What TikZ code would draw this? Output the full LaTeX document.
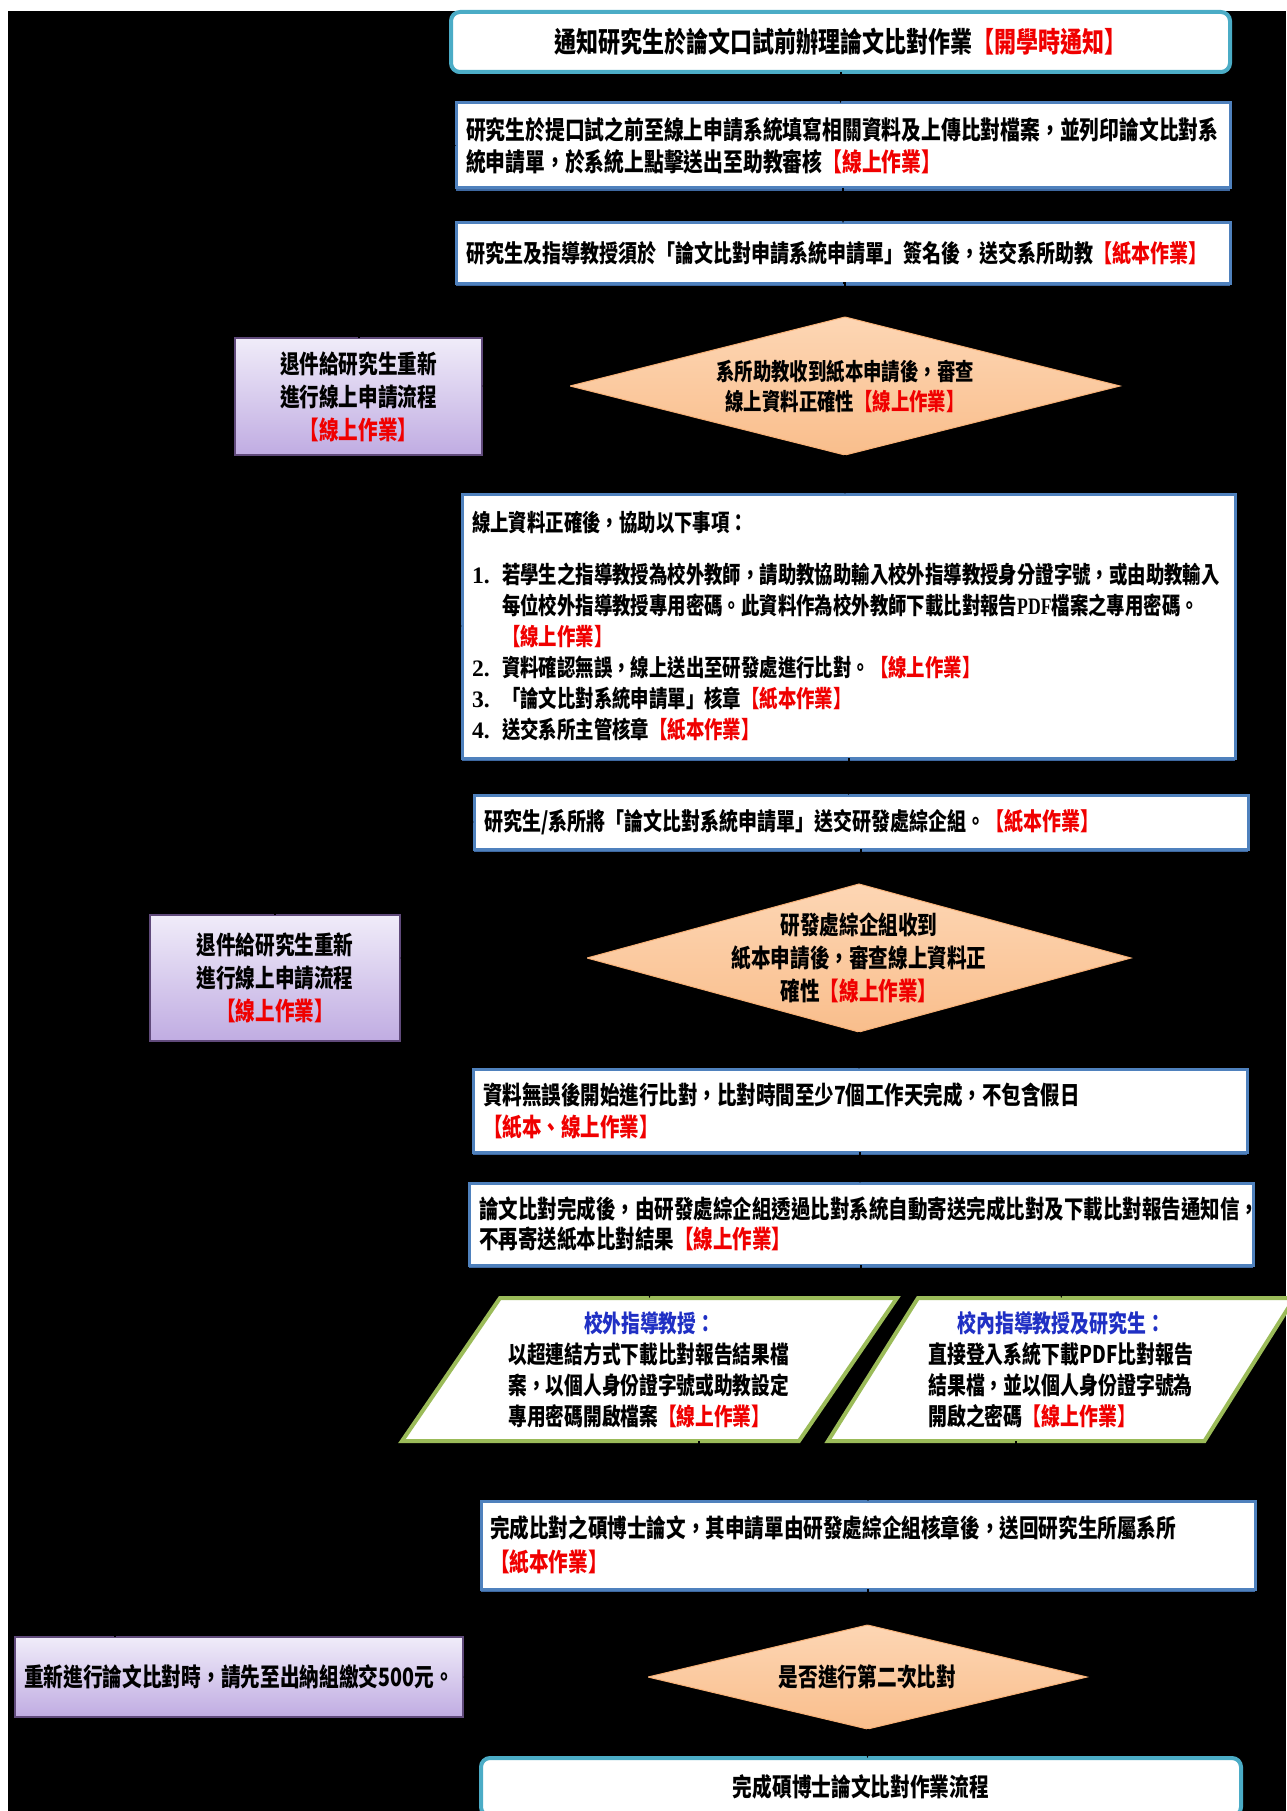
\documentclass[tikz,border=0pt]{standalone}
\usepackage{fontspec}
\setmainfont{Noto Sans CJK TC}[FakeStretch=0.78]
\newfontfamily\tnr{Liberation Serif}
\newfontfamily\tnrn{Liberation Serif}[FakeStretch=0.75]
\usetikzlibrary{shapes.geometric,shadows,arrows.meta}
\definecolor{tealc}{RGB}{75,172,198}
\definecolor{boxblue}{RGB}{79,129,189}
\definecolor{shadowblue}{RGB}{62,104,160}
\definecolor{purpb}{RGB}{96,74,123}
\definecolor{purpt}{RGB}{240,236,249}
\definecolor{purpbot}{RGB}{192,172,226}
\definecolor{oratop}{RGB}{253,214,180}
\definecolor{orabot}{RGB}{249,190,140}
\definecolor{orab}{RGB}{247,176,118}
\definecolor{greenb}{RGB}{155,187,89}
\definecolor{myred}{RGB}{240,0,0}
\definecolor{tblue}{RGB}{32,48,196}
\pgfdeclarelayer{back}
\pgfdeclarelayer{bg}
\pgfsetlayers{back,bg,main}
\newcommand{\redt}[1]{\textcolor{myred}{#1}}
% #1 = advance width of one character in px, #2 = line distance
\newcommand{\fs}[2]{\pgfmathsetmacro\fsz{#1/0.78}\bfseries\fontsize{\fsz}{#2}\selectfont}
\tikzset{
  every node/.style={inner sep=0pt, outer sep=0pt},
  bluebox/.style={draw=boxblue, line width=3pt, fill=white,
    general shadow={fill=shadowblue, shadow yshift=-3pt},
    align=left, inner xsep=10pt},
  tealbox/.style={draw=tealc, line width=4pt, fill=white, rounded corners=9pt,
    general shadow={fill=tealc!80!black, shadow yshift=-2pt}, align=center},
  purplebox/.style={draw=purpb, line width=1.5pt, top color=purpt, bottom color=purpbot, align=center},
  dia/.style={diamond, draw=orab, line width=1pt, top color=oratop, bottom color=orabot},
  parashape/.style={draw=greenb, line width=4pt, fill=white, line join=miter},
  conn/.style={draw=black, line width=2pt, -{Stealth[length=10pt]}},
}
\begin{document}
\begin{tikzpicture}[x=1pt,y=-1pt]
\useasboundingbox (0,0) rectangle (1286,1811);
\begin{pgfonlayer}{back}
\fill[white] (0,0) rectangle (1286,1811);
\fill[black] (8,11) rectangle (1286,1811);
\end{pgfonlayer}

% top box
\node[tealbox, minimum width=779pt, minimum height=60pt, font=\fs{22}{26}] (b1) at (840.5,42)
  {通知研究生於論文口試前辦理論文比對作業\redt{【開學時通知】}};

\node[bluebox, minimum width=774pt, minimum height=85pt, text width=754pt, font=\fs{19.8}{32}] (b2) at (843,145.5)
  {研究生於提口試之前至線上申請系統填寫相關資料及上傳比對檔案，並列印論文比對系\\
   統申請單，於系統上點擊送出至助教審核\redt{【線上作業】}};

\node[bluebox, minimum width=774pt, minimum height=60pt, text width=754pt, font=\fs{19}{24}] (b3) at (843,253)
  {研究生及指導教授須於「論文比對申請系統申請單」簽名後，送交系所助教\redt{【紙本作業】}};

\node[dia, minimum width=550pt, minimum height=138pt,
  label={[align=center, font=\fs{18.4}{30}]center:{系所助教收到紙本申請後，審查\\線上資料正確性\redt{【線上作業】}}}] (d1) at (845,386) {};

\node[purplebox, minimum width=247pt, minimum height=117pt, font=\fs{19.6}{33}] (pu1) at (358.5,396.5)
  {退件給研究生重新\\進行線上申請流程\\\redt{【線上作業】}};

\node[bluebox, minimum width=773pt, minimum height=264pt, text width=753pt, font=\fs{18.4}{31}] (b4) at (848.5,626)
  {線上資料正確後，協助以下事項：\\[21pt]
   \makebox[30pt][l]{\tnr 1.}若學生之指導教授為校外教師，請助教協助輸入校外指導教授身分證字號，或由助教輸入\\
   \hspace*{30pt}每位校外指導教授專用密碼。此資料作為校外教師下載比對報告{\tnrn PDF}檔案之專用密碼。\\
   \hspace*{30pt}\redt{【線上作業】}\\
   \makebox[30pt][l]{\tnr 2.}資料確認無誤，線上送出至研發處進行比對。\redt{【線上作業】}\\
   \makebox[30pt][l]{\tnr 3.}「論文比對系統申請單」核章\redt{【紙本作業】}\\
   \makebox[30pt][l]{\tnr 4.}送交系所主管核章\redt{【紙本作業】}};

\node[bluebox, minimum width=774pt, minimum height=54pt, text width=754pt, font=\fs{19}{24}] (b5) at (861,822)
  {研究生/系所將「論文比對系統申請單」送交研發處綜企組。\redt{【紙本作業】}};

\node[dia, minimum width=544pt, minimum height=148pt,
  label={[align=center, font=\fs{19.6}{33}]center:{研發處綜企組收到\\紙本申請後，審查線上資料正\\確性\redt{【線上作業】}}}] (d2) at (859,958) {};

\node[purplebox, minimum width=250pt, minimum height=126pt, font=\fs{19.6}{33}] (pu2) at (275,978)
  {退件給研究生重新\\進行線上申請流程\\\redt{【線上作業】}};

\node[bluebox, minimum width=774pt, minimum height=83pt, text width=754pt, font=\fs{19.5}{32}] (b6) at (860,1110.5)
  {資料無誤後開始進行比對，比對時間至少7個工作天完成，不包含假日\\
   \redt{【紙本、線上作業】}};

\node[bluebox, minimum width=784pt, minimum height=82pt, text width=764pt, font=\fs{19.5}{30}] (b7) at (861,1224)
  {論文比對完成後，由研發處綜企組透過比對系統自動寄送完成比對及下載比對報告通知信，\\
   不再寄送紙本比對結果\redt{【線上作業】}};

% parallelograms
\node[minimum width=397pt, minimum height=143pt, text width=282pt, align=left, font=\fs{18.7}{31}] (p1) at (649.5,1369.5)
  {\makebox[282pt]{\textcolor{tblue}{校外指導教授：}}\\
   以超連結方式下載比對報告結果檔\\
   案，以個人身份證字號或助教設定\\
   專用密碼開啟檔案\redt{【線上作業】}};
\node[minimum width=376.5pt, minimum height=143pt, text width=266pt, align=left, font=\fs{18.9}{31}] (p2) at (1061.25,1369.5)
  {\makebox[266pt]{\textcolor{tblue}{校內指導教授及研究生：}}\\
   直接登入系統下載PDF比對報告\\
   結果檔，並以個人身份證字號為\\
   開啟之密碼\redt{【線上作業】}};
\begin{pgfonlayer}{bg}
\draw[parashape] ([xshift=49pt]p1.north west) -- ([xshift=49pt]p1.north east)
  -- ([xshift=-49pt]p1.south east) -- ([xshift=-49pt]p1.south west) -- cycle;
\draw[parashape] ([xshift=45pt]p2.north west) -- ([xshift=45pt]p2.north east)
  -- ([xshift=-45pt]p2.south east) -- ([xshift=-45pt]p2.south west) -- cycle;
\end{pgfonlayer}

\node[bluebox, minimum width=774pt, minimum height=88pt, text width=756pt, inner xsep=9pt, font=\fs{19.6}{34}] (b8) at (868,1545)
  {完成比對之碩博士論文，其申請單由研發處綜企組核章後，送回研究生所屬系所\\
   \redt{【紙本作業】}};

\node[purplebox, minimum width=448pt, minimum height=80pt, font=\fs{19.7}{24}] (pu3) at (239,1677)
  {重新進行論文比對時，請先至出納組繳交500元。};

\node[dia, minimum width=439pt, minimum height=104pt,
  label={[align=center, font=\fs{19.7}{24}]center:{是否進行第二次比對}}] (d3) at (867.5,1677) {};

\node[tealbox, minimum width=760pt, minimum height=58pt, font=\fs{19.7}{24}] (b9) at (861,1787)
  {完成碩博士論文比對作業流程};

% connectors (black on the black ground, as in the reference)
\draw[conn] (b1.south) -- (b1.south |- b2.north);
\draw[conn] (b2.south) -- (b2.south |- b3.north);
\draw[conn] (b3.south) -- (b3.south -| d1.north) -- (d1.north);
\draw[conn] (d1.south) -- (d1.south |- b4.north);
\draw[conn] (d1.west) -- (d1.west -| pu1.east);
\draw[conn] (pu1.north) |- (b2.west);
\draw[conn] (b4.south) -- (b4.south |- b5.north);
\draw[conn] (b5.south) -- (b5.south |- d2.north);
\draw[conn] (d2.west) -- (d2.west -| pu2.east);
\draw[conn] (pu2.north) |- (b5.west);
\draw[conn] (d2.south) -- (d2.south |- b6.north);
\draw[conn] (b6.south) -- (b6.south |- b7.north);
\draw[conn] (b7.south) -- ++(0,14) -| (p1.north);
\draw[conn] (b7.south) -- ++(0,14) -| (p2.north);
\draw[conn] ([xshift=49pt]p1.south) -- ++(0,29) -| (b8.north);
\draw[conn] ([xshift=-45pt]p2.south) -- ++(0,29) -| (b8.north);
\draw[conn] (b8.south) -- (b8.south |- d3.north);
\draw[conn] (d3.south) -- (d3.south |- b9.north);
\draw[conn] (d3.west) -- (pu3.east);
\draw[conn] ([xshift=-124pt]pu3.north) |- (b4.west);
\end{tikzpicture}
\end{document}
